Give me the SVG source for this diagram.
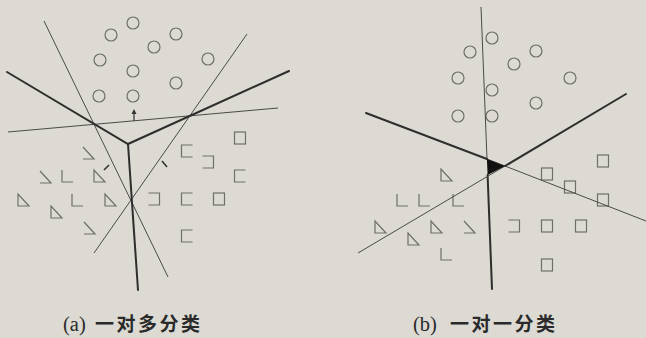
<svg xmlns="http://www.w3.org/2000/svg" xmlns:xlink="http://www.w3.org/1999/xlink" width="646" height="338" viewBox="0 0 646 338">
<style>
.mk{fill:none;stroke:#6e6e6b;stroke-width:1.2}
.thin{fill:none;stroke:#4a4a48;stroke-width:1}
.thick{fill:none;stroke:#2e2e2d;stroke-width:2;stroke-linecap:round}
.lat{font-family:"Liberation Serif",serif;font-size:20.5px;fill:#2a2a2a}
.cjk{font-family:"Noto Sans CJK SC",sans-serif;font-size:19px;font-weight:bold;letter-spacing:2.5px;fill:#2a2a2a}
</style>
<defs>
<circle id="c" r="6" class="mk"/>
<rect id="s" x="-5.5" y="-6" width="11" height="12" class="mk"/>
<path id="sr" d="M5.5,-6H-5.5V6H5.5" class="mk"/>
<path id="sl" d="M-5.5,-6H5.5V6H-5.5" class="mk"/>
<path id="t" d="M-5,-6L-5,6L6,6Z" class="mk"/>
<path id="tl" d="M-5,-6L-5,6L6,6" class="mk"/>
<path id="th" d="M-5,-6L6,6L-5,6" class="mk"/>
</defs>
<rect width="646" height="338" fill="#dcdad3"/>

<g id="panel-a">
<g id="a-circles">
<use xlink:href="#c" x="133" y="23"/><use xlink:href="#c" x="111" y="35"/><use xlink:href="#c" x="176" y="34"/>
<use xlink:href="#c" x="154" y="47"/><use xlink:href="#c" x="100" y="60"/><use xlink:href="#c" x="208" y="59"/>
<use xlink:href="#c" x="133" y="71"/><use xlink:href="#c" x="176" y="83"/><use xlink:href="#c" x="99" y="96"/>
<use xlink:href="#c" x="133" y="96"/>
</g>
<g id="a-squares">
<use xlink:href="#s" x="240" y="138"/><use xlink:href="#sr" x="187" y="151"/><use xlink:href="#sl" x="208" y="162"/>
<use xlink:href="#sr" x="240" y="176"/><use xlink:href="#sl" x="154" y="199"/><use xlink:href="#sr" x="187" y="199"/>
<use xlink:href="#s" x="219" y="199"/><use xlink:href="#sr" x="187" y="236"/>
</g>
<g id="a-triangles">
<use xlink:href="#th" x="88" y="153"/><use xlink:href="#th" x="45" y="177"/><use xlink:href="#tl" x="67" y="176"/>
<use xlink:href="#t" x="99" y="176"/><use xlink:href="#t" x="23" y="200"/><use xlink:href="#tl" x="77" y="200"/>
<use xlink:href="#t" x="110" y="200"/><use xlink:href="#t" x="56" y="212"/><use xlink:href="#th" x="89" y="228"/>
</g>
<g id="a-lines">
<line class="thin" x1="44" y1="21" x2="168" y2="277"/>
<line class="thin" x1="247" y1="34" x2="94" y2="253"/>
<line class="thin" x1="8" y1="132" x2="278" y2="108"/>
<polyline class="thick" points="7,72 128,144 289,71"/>
<line class="thick" x1="128" y1="144" x2="138" y2="290"/>
<path d="M134,121V112" stroke="#333" stroke-width="1.2"/>
<path d="M131.5,114L134,109L136.5,114Z" fill="#333"/>
<line x1="104" y1="170" x2="109" y2="165" stroke="#333" stroke-width="1.6"/>
<line x1="162" y1="161" x2="167" y2="167" stroke="#333" stroke-width="1.6"/>
</g>
</g>

<g id="panel-b">
<g id="b-circles">
<use xlink:href="#c" x="492" y="38"/><use xlink:href="#c" x="470" y="52"/><use xlink:href="#c" x="536" y="51"/>
<use xlink:href="#c" x="514" y="64"/><use xlink:href="#c" x="458" y="78"/><use xlink:href="#c" x="570" y="78"/>
<use xlink:href="#c" x="492" y="90"/><use xlink:href="#c" x="536" y="103"/><use xlink:href="#c" x="458" y="116"/>
<use xlink:href="#c" x="492" y="116"/>
</g>
<g id="b-squares">
<use xlink:href="#s" x="603" y="161"/><use xlink:href="#s" x="547" y="174"/><use xlink:href="#s" x="570" y="187"/>
<use xlink:href="#s" x="603" y="200"/><use xlink:href="#sl" x="514" y="226"/><use xlink:href="#s" x="547" y="226"/>
<use xlink:href="#s" x="581" y="226"/><use xlink:href="#s" x="547" y="265"/>
</g>
<g id="b-triangles">
<use xlink:href="#t" x="446" y="175"/><use xlink:href="#tl" x="402" y="200"/><use xlink:href="#tl" x="424" y="200"/>
<use xlink:href="#tl" x="458" y="200"/><use xlink:href="#t" x="380" y="227"/><use xlink:href="#t" x="436" y="227"/>
<use xlink:href="#th" x="469" y="227"/><use xlink:href="#t" x="413" y="239"/><use xlink:href="#tl" x="446" y="254"/>
</g>
<g id="b-lines">
<line class="thin" x1="481" y1="7" x2="487" y2="159"/>
<line class="thick" x1="487.6" y1="175" x2="492" y2="289"/>
<line class="thick" x1="366" y1="113" x2="487" y2="159"/>
<line class="thin" x1="487" y1="159" x2="646" y2="221"/>
<line class="thick" x1="626" y1="94" x2="505" y2="166"/>
<line class="thin" x1="505" y1="166" x2="358" y2="253"/>
<path d="M486.9,159L505,166L487.6,175Z" fill="#111"/>
</g>
</g>

<g id="captions">
<text class="lat" x="63" y="331">(a)</text>
<text class="cjk" x="95" y="331">一对多分类</text>
<text class="lat" x="413" y="331">(b)</text>
<text class="cjk" x="450" y="331">一对一分类</text>
</g>
</svg>
